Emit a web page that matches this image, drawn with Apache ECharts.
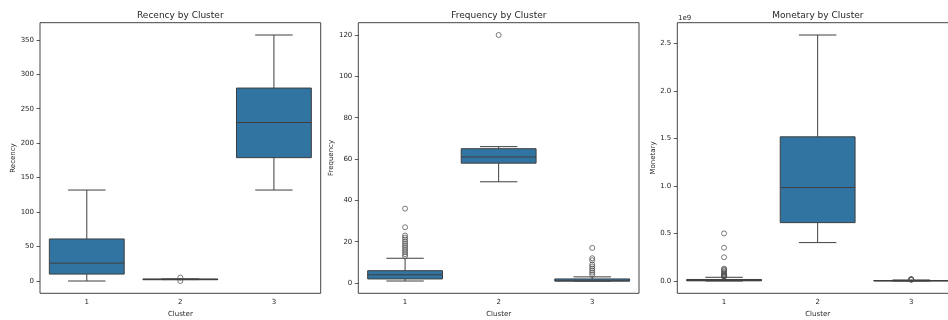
<!DOCTYPE html>
<html>
<head>
<meta charset="utf-8">
<script src="https://cdn.jsdelivr.net/npm/echarts@6/dist/echarts.min.js"></script>
<style>html,body{margin:0;padding:0;background:#fff}#c{width:948px;height:320px}</style>
</head>
<body>
<div id="c"></div>
<script>
// ---- data ----
const categories = ['1', '2', '3'];

// [lower whisker, Q1, median, Q3, upper whisker] per cluster
const recencyBox = [[0, 10, 26, 61, 132], [2, 2, 2, 3, 3], [132, 179, 230, 280, 357]];
const recencyOutliers = [[], [0, 5], []];

const frequencyBox = [[1, 2, 4, 6, 12], [49, 58, 61, 65, 66], [1, 1, 1, 2, 3]];
const frequencyOutliers = [
  [13, 14, 15, 16, 17, 18, 19, 20, 21, 22, 23, 27, 36],
  [120],
  [4, 5, 6, 7, 8, 9, 11, 12, 17]
];

const monetaryBox = [
  [0, 0.002e9, 0.006e9, 0.016e9, 0.039e9],
  [0.404e9, 0.614e9, 0.983e9, 1.517e9, 2.588e9],
  [0, 0.0005e9, 0.002e9, 0.005e9, 0.011e9]
];
const monetaryOutliers = [
  [0.045e9, 0.05e9, 0.055e9, 0.06e9, 0.07e9, 0.08e9, 0.095e9, 0.11e9, 0.12e9, 0.13e9, 0.25e9, 0.35e9, 0.5e9],
  [],
  [0.013e9, 0.015e9, 0.017e9, 0.02e9]
];

const recencyTicks = [0, 50, 100, 150, 200, 250, 300, 350];
const frequencyTicks = [0, 20, 40, 60, 80, 100, 120];
const monetaryTicks = [0, 0.5e9, 1.0e9, 1.5e9, 2.0e9, 2.5e9];

const titles = ['Recency by Cluster', 'Frequency by Cluster', 'Monetary by Cluster'];
const yNames = ['Recency', 'Frequency', 'Monetary'];

// ---- chart ----
const FONT = 'DejaVu Sans';
const TEXT = '#262626';
const BOX_FILL = '#3274a1';
const LINE = '#3f3f3f';

const panels = [
  { box: recencyBox, out: recencyOutliers, ticks: recencyTicks, fmt: v => String(v), nameGap: 22.5 },
  { box: frequencyBox, out: frequencyOutliers, ticks: frequencyTicks, fmt: v => String(v), nameGap: 21 },
  { box: monetaryBox, out: monetaryOutliers, ticks: monetaryTicks, fmt: v => (v / 1e9).toFixed(1), nameGap: 20 }
];

const grids = [
  { left: 40, width: 280.7, top: 22.7, height: 270.6 },
  { left: 358.3, width: 280.7, top: 22.7, height: 270.6 },
  { left: 677.3, width: 280.7, top: 22.7, height: 270.6 }
];

function extentOf(p) {
  let lo = Infinity, hi = -Infinity;
  p.box.forEach(b => b.forEach(v => { lo = Math.min(lo, v); hi = Math.max(hi, v); }));
  p.out.forEach(o => o.forEach(v => { lo = Math.min(lo, v); hi = Math.max(hi, v); }));
  const pad = (hi - lo) * 0.05;
  return [lo - pad, hi + pad];
}

function renderBox(params, api) {
  const x = api.value(0);
  const vals = [1, 2, 3, 4, 5].map(i => api.value(i));
  const pts = vals.map(v => api.coord([x, v]));
  const band = api.size([1, 0])[0];
  const bw = band * 0.8, cw = band * 0.4;
  const cx = pts[0][0];
  const ls = { stroke: LINE, lineWidth: 1 };
  return {
    type: 'group',
    children: [
      { type: 'line', shape: { x1: cx, y1: pts[1][1], x2: cx, y2: pts[0][1] }, style: ls },
      { type: 'line', shape: { x1: cx, y1: pts[3][1], x2: cx, y2: pts[4][1] }, style: ls },
      { type: 'line', shape: { x1: cx - cw / 2, y1: pts[0][1], x2: cx + cw / 2, y2: pts[0][1] }, style: ls },
      { type: 'line', shape: { x1: cx - cw / 2, y1: pts[4][1], x2: cx + cw / 2, y2: pts[4][1] }, style: ls },
      { type: 'rect', shape: { x: cx - bw / 2, y: pts[3][1], width: bw, height: pts[1][1] - pts[3][1] },
        style: { fill: BOX_FILL, stroke: LINE, lineWidth: 1 } },
      { type: 'line', shape: { x1: cx - bw / 2, y1: pts[2][1], x2: cx + bw / 2, y2: pts[2][1] }, style: ls }
    ]
  };
}

const option = {
  animation: false,
  backgroundColor: '#fff',
  textStyle: { fontFamily: FONT },
  grid: grids.map(g => Object.assign({ show: true, borderColor: '#444', borderWidth: 1,
    backgroundColor: 'transparent', containLabel: false, outerBoundsMode: 'none' }, g)),
  xAxis: panels.map((p, i) => ({
    type: 'category', gridIndex: i, data: categories,
    axisLine: { show: false },
    axisTick: { alignWithLabel: true, length: 3.5, lineStyle: { color: '#333', width: 0.8 } },
    axisLabel: { fontSize: 7, color: TEXT, fontFamily: FONT, margin: 5 },
    splitLine: { show: false },
    name: 'Cluster', nameLocation: 'middle', nameGap: 15.5,
    nameTextStyle: { fontSize: 7, color: TEXT, fontFamily: FONT }
  })),
  yAxis: panels.map((p, i) => {
    const ext = extentOf(p);
    return {
      type: 'value', gridIndex: i, min: ext[0], max: ext[1],
      axisLine: { show: false },
      axisTick: { show: true, length: 3.5, customValues: p.ticks, lineStyle: { color: '#333', width: 0.8 } },
      axisLabel: { fontSize: 7, color: TEXT, fontFamily: FONT, margin: 6, customValues: p.ticks, formatter: p.fmt },
      splitLine: { show: false },
      name: yNames[i], nameLocation: 'middle', nameGap: p.nameGap, nameRotate: 90,
      nameTextStyle: { fontSize: 7, color: TEXT, fontFamily: FONT }
    };
  }),
  graphic: [
    ...titles.map((t, i) => {
      const centers = [180.3, 498.8, 817.8];
      return { type: 'text', x: centers[i], y: 15.7,
        style: { text: t, fontSize: 9, fontFamily: FONT, fill: TEXT, align: 'center', verticalAlign: 'middle' } };
    }),
    { type: 'text', x: 678, y: 18, style: { text: '1e9', fontSize: 7, fontFamily: FONT, fill: TEXT, align: 'left', verticalAlign: 'middle' } }
  ],
  series: []
};

panels.forEach((p, i) => {
  option.series.push({
    type: 'custom', xAxisIndex: i, yAxisIndex: i,
    renderItem: renderBox,
    encode: { x: 0, y: [1, 2, 3, 4, 5] },
    data: p.box.map((b, k) => [k].concat(b)),
    z: 2
  });
  const pts = [];
  p.out.forEach((arr, k) => arr.forEach(v => pts.push([k, v])));
  option.series.push({
    type: 'scatter', xAxisIndex: i, yAxisIndex: i,
    symbol: 'circle', symbolSize: 5,
    itemStyle: { color: 'rgba(255,255,255,0)', borderColor: '#4a4a4a', borderWidth: 0.9 },
    data: pts, z: 3
  });
});

const chart = echarts.init(document.getElementById('c'), null, { renderer: 'canvas' });
chart.setOption(option);
</script>
</body>
</html>
